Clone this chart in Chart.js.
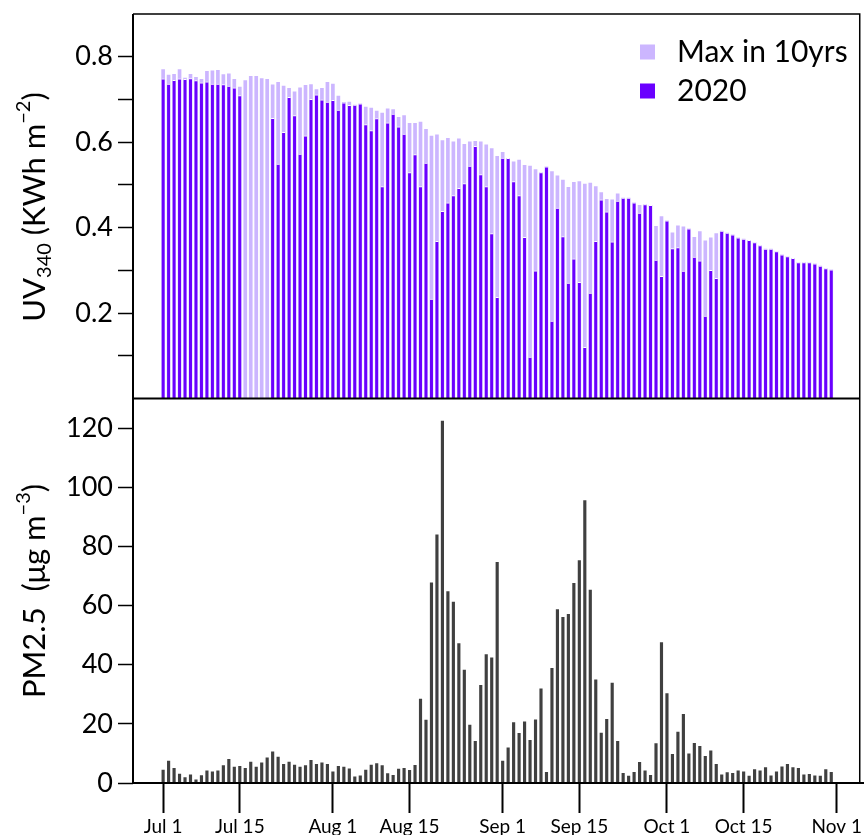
<!DOCTYPE html>
<html>
<head>
<meta charset="utf-8">
<script src="https://cdn.jsdelivr.net/npm/chart.js@4.4.1/dist/chart.umd.min.js"></script>
<style>
  html, body { margin: 0; padding: 0; background: #fff; }
</style>
</head>
<body>
<canvas id="myChart" width="864" height="835"></canvas>
<script>
// UV340 daily dose (KWh m-2), Jul 1 .. Oct 31
const uvMax = [
  0.770,0.757,0.759,0.770,0.750,0.759,0.752,0.747,0.766,0.767,
  0.768,0.758,0.760,0.747,0.729,0.744,0.754,0.754,0.749,0.747,
  0.734,0.740,0.731,0.726,0.718,0.727,0.733,0.735,0.723,0.726,
  0.740,0.736,0.708,0.693,0.694,0.687,0.690,0.682,0.680,0.673,
  0.668,0.678,0.676,0.658,0.662,0.644,0.644,0.647,0.630,0.614,
  0.617,0.604,0.609,0.601,0.608,0.595,0.601,0.602,0.601,0.594,
  0.585,0.567,0.576,0.562,0.554,0.558,0.546,0.544,0.536,0.529,
  0.542,0.531,0.521,0.511,0.494,0.506,0.508,0.502,0.504,0.496,
  0.482,0.466,0.465,0.479,0.469,0.469,0.458,0.452,0.454,0.452,
  0.403,0.426,0.416,0.388,0.404,0.402,0.397,0.377,0.391,0.369,
  0.376,0.386,0.392,0.387,0.383,0.376,0.373,0.370,0.365,0.358,
  0.350,0.350,0.344,0.336,0.332,0.328,0.318,0.318,0.318,0.315,
  0.310,0.304,0.301
];
const uv2020 = [
  0.748,0.736,0.745,0.748,0.747,0.749,0.744,0.739,0.741,0.736,
  0.736,0.735,0.731,0.727,0.709,null,null,null,null,null,
  0.656,0.549,0.623,0.705,0.662,0.572,0.615,0.700,0.711,0.699,
  0.694,0.698,0.675,0.692,0.686,0.687,0.690,0.641,0.627,0.655,
  0.496,0.645,0.666,0.636,0.619,0.529,0.571,0.496,0.551,0.233,
  0.368,0.438,0.458,0.475,0.492,0.503,0.544,0.590,0.524,0.496,
  0.386,0.237,0.563,0.562,0.508,0.475,0.377,0.097,0.299,0.529,
  0.542,0.181,0.446,0.379,0.270,0.327,0.272,0.120,0.247,0.368,
  0.465,0.437,0.367,0.462,0.469,0.469,0.458,0.434,0.454,0.452,
  0.324,0.286,0.416,0.351,0.353,0.298,0.397,0.331,0.322,0.193,
  0.300,0.281,0.392,0.387,0.383,0.376,0.373,0.370,0.365,0.358,
  0.350,0.350,0.344,0.336,0.332,0.328,0.318,0.318,0.318,0.315,
  0.310,0.304,0.301
];
// PM2.5 daily mean
const pm25 = [
  4.4,7.4,5.0,3.0,1.8,2.8,1.1,2.5,4.1,3.8,
  4.1,5.9,8.0,5.4,5.6,5.0,7.1,5.4,6.8,8.5,
  10.5,8.8,6.3,7.1,6.1,5.4,5.9,7.7,6.3,6.8,
  6.3,3.8,5.6,5.4,4.8,2.1,2.4,4.4,6.1,6.6,
  5.9,3.2,2.6,4.7,5.0,4.3,6.0,28.4,21.3,67.7,
  83.9,122.4,64.7,61.2,47.1,38.2,19.6,14.1,33.0,43.4,
  42.3,74.6,7.4,11.9,20.4,16.8,20.7,14.4,21.4,31.8,
  3.6,38.8,58.6,56.0,57.0,67.5,75.2,95.5,65.2,34.9,
  16.9,21.5,33.8,14.1,3.3,2.3,3.6,7.0,4.1,2.6,
  13.3,47.5,30.2,9.7,17.2,23.2,9.9,13.4,12.4,9.0,
  10.9,6.3,2.8,3.5,3.3,4.1,3.8,2.3,4.5,4.1,
  5.2,2.4,3.8,5.5,6.3,5.2,5.0,2.8,2.9,2.4,
  2.3,4.5,3.6
];
// day number counted from Jul 1
const days = uvMax.map((_, i) => i);

const xTickDays = [0, 14, 31, 45, 62, 76, 92, 106, 123];
const xTickLabels = ['Jul 1', 'Jul 15', 'Aug 1', 'Aug 15', 'Sep 1', 'Sep 15', 'Oct 1', 'Oct 15', 'Nov 1'];
const uvTicks = [0.1, 0.2, 0.3, 0.4, 0.5, 0.6, 0.7, 0.8];
const uvTickLabels = ['', '0.2', '', '0.4', '', '0.6', '', '0.8'];
const pmTicks = [0, 20, 40, 60, 80, 100, 120];

const legendLabels = ['Max in 10yrs', '2020'];
const colMax = 'rgb(204, 182, 255)';
const col2020 = 'rgb(106, 0, 255)';
const colPM = 'rgb(64, 64, 64)';
const FONT = 'Lato';

const toXY = arr => days.map((d, i) => ({ x: d, y: arr[i] }));

function drawRich(ctx, cx, cy, parts) {
  ctx.save();
  ctx.translate(cx, cy);
  ctx.rotate(-Math.PI / 2);
  let total = 0;
  parts.forEach(p => {
    ctx.font = p.size + 'px ' + FONT;
    p.w = ctx.measureText(p.t).width;
    total += p.w;
  });
  let x = -total / 2;
  ctx.fillStyle = '#000';
  ctx.textBaseline = 'alphabetic';
  parts.forEach(p => {
    ctx.font = p.size + 'px ' + FONT;
    ctx.fillText(p.t, x, p.dy);
    x += p.w;
  });
  ctx.restore();
}

const extras = {
  id: 'extras',
  afterDraw(chart) {
    const ctx = chart.ctx;
    const a = chart.chartArea;
    const yUV = chart.scales.yUV;
    ctx.save();
    ctx.strokeStyle = '#000';
    ctx.lineWidth = 1.5;
    ctx.beginPath();
    ctx.moveTo(a.left, a.top);
    ctx.lineTo(a.right, a.top);
    ctx.lineTo(a.right, a.bottom);
    ctx.stroke();
    ctx.lineWidth = 2;
    ctx.beginPath();
    ctx.moveTo(a.left, a.top);
    ctx.lineTo(a.left, a.bottom);
    ctx.moveTo(a.left, a.bottom);
    ctx.lineTo(chart.width, a.bottom);
    ctx.moveTo(a.left, yUV.bottom);
    ctx.lineTo(a.right, yUV.bottom);
    ctx.stroke();

    // legend
    const cols = [colMax, col2020];
    ctx.font = '30px ' + FONT;
    ctx.textBaseline = 'middle';
    legendLabels.forEach((lab, i) => {
      const y = 52 + i * 39;
      ctx.fillStyle = cols[i];
      ctx.fillRect(640, y - 7.5, 15, 15);
      ctx.fillStyle = '#000';
      ctx.fillText(lab, 677, y);
    });
    ctx.restore();

    // axis titles
    drawRich(ctx, 45, 207, [
      { t: 'UV', size: 31, dy: 0 },
      { t: '340', size: 20, dy: 6 },
      { t: ' (KWh m', size: 31, dy: 0 },
      { t: '\u22122', size: 20, dy: -15 },
      { t: ')', size: 31, dy: 0 }
    ]);
    drawRich(ctx, 45, 591, [
      { t: 'PM2.5  (\u03bcg m', size: 31, dy: 0 },
      { t: '\u22123', size: 20, dy: -15 },
      { t: ')', size: 31, dy: 0 }
    ]);
  }
};

const fitY = s => {
  s.width = 133;
  s.paddingTop = 0;
  s.paddingBottom = 0;
};

const ctx = document.getElementById('myChart').getContext('2d');
const myChart = new Chart(ctx, {
  type: 'bar',
  data: {
    datasets: [
      {
        label: '2020',
        data: toXY(uv2020),
        yAxisID: 'yUV',
        backgroundColor: col2020,
        borderColor: '#fff',
        borderWidth: { top: 1, left: 0, right: 0, bottom: 0 },
        barThickness: 3,
        order: 1
      },
      {
        label: 'Max in 10yrs',
        data: toXY(uvMax),
        yAxisID: 'yUV',
        backgroundColor: colMax,
        borderWidth: 0,
        barThickness: 3,
        order: 2
      },
      {
        label: 'PM2.5',
        data: toXY(pm25),
        yAxisID: 'yPM',
        backgroundColor: colPM,
        borderWidth: 0,
        barThickness: 2.5,
        order: 3
      }
    ]
  },
  options: {
    responsive: false,
    devicePixelRatio: 1,
    animation: false,
    grouped: false,
    layout: { padding: { top: 14, right: 2, left: 0, bottom: 0 } },
    plugins: {
      legend: { display: false },
      tooltip: { enabled: false }
    },
    scales: {
      x: {
        type: 'linear',
        position: 'bottom',
        offset: false,
        min: -5.5,
        max: 127.2,
        afterFit: s => { s.height = 52; },
        afterBuildTicks: s => { s.ticks = xTickDays.map(v => ({ value: v })); },
        border: { display: false },
        grid: { offset: false, drawOnChartArea: false, drawTicks: true, tickLength: 30, tickWidth: 2, tickColor: '#000' },
        ticks: {
          autoSkip: false,
          maxRotation: 0,
          padding: 2,
          color: '#000',
          font: { family: FONT, size: 19 },
          callback: v => xTickLabels[xTickDays.indexOf(v)]
        }
      },
      yUV: {
        type: 'linear',
        position: 'left',
        stack: 'panels',
        stackWeight: 1,
        weight: 2,
        min: 0,
        max: 0.9,
        afterFit: fitY,
        afterBuildTicks: s => { s.ticks = uvTicks.map(v => ({ value: v })); },
        border: { display: false },
        grid: { drawOnChartArea: false, drawTicks: true, tickLength: 15, tickWidth: 1.5, tickColor: '#000' },
        ticks: {
          autoSkip: false,
          padding: 5,
          color: '#000',
          font: { family: FONT, size: 27 },
          callback: v => uvTickLabels[uvTicks.indexOf(v)]
        }
      },
      yPM: {
        type: 'linear',
        position: 'left',
        stack: 'panels',
        stackWeight: 1,
        weight: 1,
        min: 0,
        max: 130,
        afterFit: fitY,
        afterBuildTicks: s => { s.ticks = pmTicks.map(v => ({ value: v })); },
        border: { display: false },
        grid: { drawOnChartArea: false, drawTicks: true, tickLength: 15, tickWidth: 1.5, tickColor: '#000' },
        ticks: {
          autoSkip: false,
          padding: 5,
          color: '#000',
          font: { family: FONT, size: 27 },
          callback: v => String(v)
        }
      }
    }
  },
  plugins: [extras]
});
</script>
</body>
</html>
